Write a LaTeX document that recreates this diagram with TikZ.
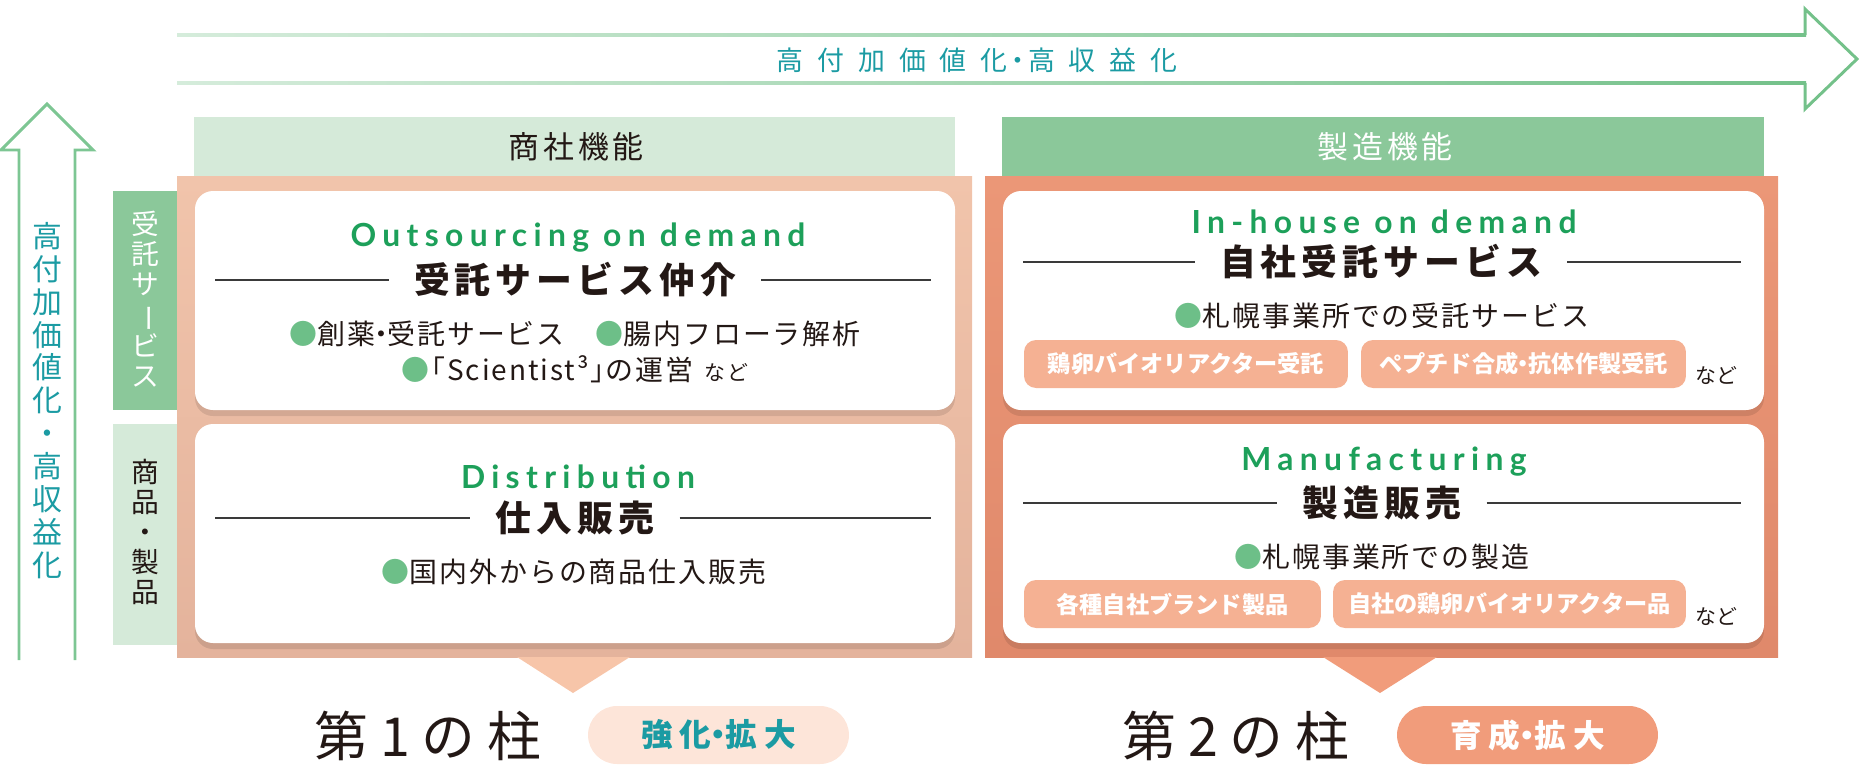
\documentclass[tikz,border=0pt]{standalone}
\usepackage{fontspec}
\newfontfamily\jp{Noto Sans CJK JP}
\newfontfamily\lat{Lato}
\usetikzlibrary{calc}
\definecolor{arrL}{HTML}{D5ECDB}
\definecolor{arrR}{HTML}{74C18A}
\definecolor{arrV}{HTML}{7DC693}
\definecolor{tealc}{HTML}{1B9BA3}
\definecolor{hdrL}{HTML}{D5EAD9}
\definecolor{hdrG}{HTML}{8BC89A}
\definecolor{dark}{HTML}{231815}
\definecolor{egreen}{HTML}{1DA05A}
\definecolor{bgreen}{HTML}{6DBF88}
\definecolor{lpT}{HTML}{F1C4AB}
\definecolor{lpB}{HTML}{E4B39C}
\definecolor{lpTri}{HTML}{F7C5A9}
\definecolor{rpT}{HTML}{EB9777}
\definecolor{rpB}{HTML}{E0896B}
\definecolor{rpTri}{HTML}{F19C7B}
\definecolor{pillc}{HTML}{F5B193}
\definecolor{pkA}{HTML}{FDE5D9}
\definecolor{pkB}{HTML}{F19C7B}
\definecolor{linec}{HTML}{3A3A3A}
\newcommand\myfs[1]{\fontsize{#1pt}{#1pt}\selectfont}
\newcommand\bul{{\color{bgreen}●}}
\newcommand\vbar{\rotatebox[origin=c]{-90}{ー}}
\newcommand\nd{\kern-0.28em・\kern-0.28em}
\newcommand\ndw{\kern-0.12em・\kern-0.12em}
\newcommand\jlb{\kern-0.45em「}
\newcommand\jrb{」\kern-0.45em}
\tikzset{
  every node/.style={inner sep=0pt},
  toptext/.style={font=\jp\myfs{15.3}\addfontfeatures{LetterSpace=52}, text=tealc},
  vtext/.style={font=\jp\fontsize{17pt}{18.7pt}\selectfont, text=tealc, align=center},
  sidetext/.style={font=\jp\fontsize{15.8pt}{17pt}\selectfont, align=center},
  hdrtext/.style={font=\jp\myfs{17.6}\addfontfeatures{LetterSpace=13}},
  engl/.style={font=\lat\bfseries\myfs{18.1}\addfontfeatures{LetterSpace=20}, text=egreen},
  headk/.style={font=\jp\bfseries\myfs{20.4}\addfontfeatures{LetterSpace=14}, text=dark, inner xsep=0.5cm},
  hline/.style={draw=linec, line width=0.9pt},
  body/.style={font=\jp\myfs{15.9}\addfontfeatures{LetterSpace=7}, text=dark},
  nado/.style={font=\jp\myfs{11.9}, text=dark},
  pillbox/.style={fill=pillc, rounded corners=0.24cm, text=white, font=\jp\bfseries\myfs{13.2}, minimum height=0.96cm},
  big/.style={font=\jp\myfs{30.6}\addfontfeatures{LetterSpace=22}, text=dark},
  bpill/.style={rounded corners=0.58cm, minimum width=5.22cm, minimum height=1.16cm, font=\jp\bfseries\myfs{18}\addfontfeatures{LetterSpace=22}},
  card/.style={fill=white, rounded corners=0.36cm},
  cshadow/.style={fill=black, opacity=0.10, rounded corners=0.36cm},
}
\begin{document}
\begin{tikzpicture}[x=0.02cm,y=-0.02cm]
\useasboundingbox (0,0) rectangle (1874,771);
% top arrow
\shade[left color=arrL, right color=arrR] (177,33.5) rectangle (1806,36.5);
\shade[left color=arrL, right color=arrR] (177,81.5) rectangle (1806,84.5);
\draw[arrR, line width=1.7pt, line join=miter] (1805,35) -- (1805,9) -- (1857,59) -- (1805,109) -- (1805,83);
\node[toptext] (tt) at (977,60) {高付加価値化\ndw 高収益化};
% left arrow
\draw[arrV, line width=1.7pt, line join=miter] (19,660) -- (19,150) -- (1,150) -- (47,104) -- (93,150) -- (75,150) -- (75,660);
\node[vtext, anchor=north] (vt) at (47,222) {高\\付\\加\\価\\値\\化\\・\\高\\収\\益\\化};
% headers
\fill[hdrL] (194,117) rectangle (955,176);
\node[hdrtext, text=dark] (h1) at (576,147) {商社機能};
\fill[hdrG] (1002,117) rectangle (1764,176);
\node[hdrtext, text=white] (h2) at (1385,147) {製造機能};
% panels
\shade[top color=lpT, bottom color=lpB] (177,176) rectangle (972,657);
\fill[lpTri] (517,657) -- (630,657) -- (573,693) -- cycle;
\shade[top color=rpT, bottom color=rpB] (985,176) rectangle (1778,657);
\fill[rpTri] (1323,657) -- (1437,657) -- (1380,693) -- cycle;
% side boxes
\fill[hdrG] (113,191) rectangle (177,410);
\node[sidetext, text=white] (s1) at (145,299) {受\\託\\サ\\\vbar\\ビ\\ス};
\fill[hdrL] (113,424) rectangle (177,645);
\node[sidetext, text=dark] (s2) at (145,532) {商\\品\\・\\製\\品};
% cards
\fill[cshadow] (195,197) rectangle (955,416);
\fill[card] (195,191) rectangle (955,410);
\fill[cshadow] (195,430) rectangle (955,649);
\fill[card] (195,424) rectangle (955,643);
\fill[cshadow] (1003,197) rectangle (1764,416);
\fill[card] (1003,191) rectangle (1764,410);
\fill[cshadow] (1003,430) rectangle (1764,649);
\fill[card] (1003,424) rectangle (1764,643);
% LU
\node[engl] (e1) at (578,238) {Outsourcing on demand};
\node[headk] (k1) at (575,280) {受託サービス仲介};
\coordinate (k1l) at (215,280); \coordinate (k1r) at (931,280);
\draw[hline] (k1l) -- (k1.west); \draw[hline] (k1.east) -- (k1r);
\node[body] (b1) at (575,334) {\bul 創薬\nd 受託サービス\hspace{1.1em}\bul 腸内フローラ解析};
\node[body] (b2) at (575,369) {\bul\jlb Scientist³\jrb の運営\hspace{0.4em}{\myfs{11.9}など}};
% LL
\node[engl] (e2) at (578,477) {Distribution};
\node[headk] (k2) at (575,518) {仕入販売};
\coordinate (k2l) at (215,518); \coordinate (k2r) at (931,518);
\draw[hline] (k2l) -- (k2.west); \draw[hline] (k2.east) -- (k2r);
\node[body] (b3) at (574,572) {\bul 国内外からの商品仕入販売};
% RU
\node[engl] (e3) at (1384,222) {In-house on demand};
\node[headk] (k3) at (1381,262) {自社受託サービス};
\coordinate (k3l) at (1023,262); \coordinate (k3r) at (1741,262);
\draw[hline] (k3l) -- (k3.west); \draw[hline] (k3.east) -- (k3r);
\node[body] (b4) at (1382,316) {\bul 札幌事業所での受託サービス};
\node[pillbox, minimum width=6.48cm] (p1) at (1186,364) {鶏卵バイオリアクター受託};
\node[pillbox, minimum width=6.5cm] (p2) at (1523.5,364) {ペプチド合成\nd 抗体作製受託};
\node[nado, anchor=west] (n1) at (1695,376) {など};
% RL
\node[engl] (e4) at (1384,462) {Manufacturing};
\node[headk] (k4) at (1382,503) {製造販売};
\coordinate (k4l) at (1023,503); \coordinate (k4r) at (1741,503);
\draw[hline] (k4l) -- (k4.west); \draw[hline] (k4.east) -- (k4r);
\node[body] (b5) at (1382,557) {\bul 札幌事業所での製造};
\node[pillbox, minimum width=5.94cm] (p3) at (1172.5,604) {各種自社ブランド製品};
\node[pillbox, minimum width=7.06cm] (p4) at (1509.5,604) {自社の鶏卵バイオリアクター品};
\node[nado, anchor=west] (n2) at (1695,617) {など};
% bottom
\node[big] (z1) at (428,736) {第1の柱};
\node[bpill, fill=pkA, text=tealc] (q1) at (718.5,735) {強化\nd 拡大};
\node[big] (z2) at (1236,736) {第2の柱};
\node[bpill, fill=pkB, text=white] (q2) at (1527.5,735) {育成\nd 拡大};
\end{tikzpicture}
\end{document}
